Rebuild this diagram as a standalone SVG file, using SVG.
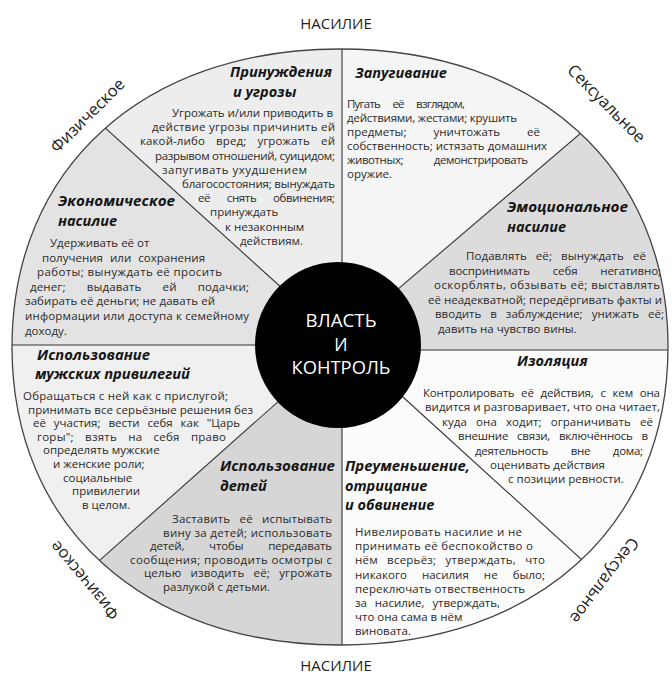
<svg xmlns="http://www.w3.org/2000/svg" width="672" height="679" viewBox="0 0 672 679">
<style>
.b{font-family:"Open Sans","Noto Sans",sans-serif;font-size:11.5px;fill:#2a2a2a}
.t{font-family:"Open Sans","Noto Sans",sans-serif;font-size:14.5px;font-weight:700;font-style:italic;fill:#151515}
.o{font-family:"Open Sans","Noto Sans",sans-serif;font-size:15px;fill:#222}
.c{font-family:"Open Sans","Noto Sans",sans-serif;font-size:17.5px;fill:#fff;text-anchor:middle}
.ln{stroke:#333;stroke-width:1.1;fill:none}
</style>
<defs>
<clipPath id="wheel"><path d="M340,49 C536.8,49 668,168.2 668,347 C668,525.8 536.8,645 340,645 C143.2,645 12,525.8 12,347 C12,168.2 143.2,49 340,49 Z"/></clipPath>
</defs>
<rect width="672" height="679" fill="#fff"/>
<g id="sectors" clip-path="url(#wheel)">
<polygon id="sec-intim" points="342,336.8 342,-300 1000,-300 1000,-224.5" fill="#f5f5f5"/>
<polygon id="sec-emo" points="326.5,350 1000,-224.5 1000,350" fill="#dcdcdc"/>
<polygon id="sec-iso" points="351.4,350 1000,350 1000,940.3" fill="#fbfbfb"/>
<polygon id="sec-min" points="342,341.5 1200,1122.3 342,1200" fill="#fbfbfb"/>
<polygon id="sec-kids" points="342,344.9 342,1200 -300,1200 -300,915.6" fill="#d6d6d6"/>
<polygon id="sec-male" points="341.8,345 -300,915.6 -300,345" fill="#f0f0f0"/>
<polygon id="sec-econ" points="344.9,345 -300,345 -300,-239.2" fill="#e3e3e3"/>
<polygon id="sec-coer" points="342,342.4 -300,-239.2 -300,-300 342,-300" fill="#ededed"/>
</g>
<g id="connectors" clip-path="url(#wheel)">
<line class="ln" x1="342" y1="0" x2="342" y2="700"/>
<line class="ln" x1="344.9" y1="345" x2="-100" y2="-58"/>
<line class="ln" x1="0" y1="345" x2="345" y2="345"/>
<line class="ln" x1="342" y1="344.9" x2="-100" y2="737.8"/>
<line class="ln" x1="342" y1="341.5" x2="800" y2="758.3"/>
<line class="ln" x1="326" y1="350" x2="700" y2="350"/>
<line class="ln" x1="342" y1="336.8" x2="800" y2="-53.9"/>
</g>
<path id="outline" d="M340,49 C536.8,49 668,168.2 668,347 C668,525.8 536.8,645 340,645 C143.2,645 12,525.8 12,347 C12,168.2 143.2,49 340,49 Z" fill="none" stroke="#444" stroke-width="1.3"/>

<g id="center">
<circle cx="338" cy="345" r="83" fill="#000"/>
<text class="c" x="341" y="327" textLength="71" lengthAdjust="spacingAndGlyphs">ВЛАСТЬ</text>
<text class="c" x="341" y="350.5">И</text>
<text class="c" x="341" y="374" textLength="99" lengthAdjust="spacingAndGlyphs">КОНТРОЛЬ</text>
</g>

<g id="outer-labels">
<text class="o" x="336" y="29" text-anchor="middle">НАСИЛИЕ</text>
<text class="o" x="336" y="671" text-anchor="middle">НАСИЛИЕ</text>
<text class="o" style="font-size:16.5px" text-anchor="middle" transform="translate(88,116) rotate(-45)" y="5">Физическое</text>
<text class="o" style="font-size:16.5px" text-anchor="middle" transform="translate(606,104) rotate(45)" y="5">Сексуальное</text>
<text class="o" style="font-size:16.5px" text-anchor="middle" transform="translate(85,580) rotate(-130)" y="5">Физическое</text>
<text class="o" style="font-size:16.5px" text-anchor="middle" transform="translate(604,580) rotate(127)" y="5">Сексуальное</text>
</g>

<g id="node-coercion">
<text class="t" x="332" y="77" text-anchor="end" textLength="102" lengthAdjust="spacingAndGlyphs">Принуждения</text>
<text class="t" x="233" y="96.5">и угрозы</text>
<text class="b" x="172" y="117" textLength="161" lengthAdjust="spacing">Угрожать и/или приводить в</text>
<text class="b" x="152" y="131.2" textLength="183" lengthAdjust="spacing">действие угрозы причинить ей</text>
<text class="b" x="140" y="145.4" textLength="195" lengthAdjust="spacing" style="word-spacing:8px">какой-либо вред; угрожать ей</text>
<text class="b" x="155" y="159.6" textLength="180" lengthAdjust="spacing">разрывом отношений, суицидом;</text>
<text class="b" x="162" y="173.8" textLength="145" lengthAdjust="spacing">запугивать ухудшением</text>
<text class="b" x="182" y="188" textLength="153" lengthAdjust="spacing">благосостояния; вынуждать</text>
<text class="b" x="198" y="202.2" textLength="137" lengthAdjust="spacing" style="word-spacing:14px">её снять обвинения;</text>
<text class="b" x="210" y="216.4">принуждать</text>
<text class="b" x="225" y="230.6">к незаконным</text>
<text class="b" x="240" y="244.8">действиям.</text>
</g>

<g id="node-intimidation">
<text class="t" x="355" y="78">Запугивание</text>
<text class="b" x="347" y="108" textLength="118" lengthAdjust="spacing" style="word-spacing:10px">Пугать её взглядом,</text>
<text class="b" x="347" y="122" textLength="170" lengthAdjust="spacing">действиями, жестами; крушить</text>
<text class="b" x="347" y="136" textLength="193" lengthAdjust="spacing" style="word-spacing:24px">предметы; уничтожать её</text>
<text class="b" x="347" y="150" textLength="200" lengthAdjust="spacing">собственность; истязать домашних</text>
<text class="b" x="347" y="164" textLength="181" lengthAdjust="spacing" style="word-spacing:28px">животных; демонстрировать</text>
<text class="b" x="347" y="178">оружие.</text>
</g>

<g id="node-economic">
<text class="t" x="58" y="206" textLength="117" lengthAdjust="spacingAndGlyphs">Экономическое</text>
<text class="t" x="58" y="225.5">насилие</text>
<text class="b" x="50" y="247">Удерживать её от</text>
<text class="b" x="42" y="261.6" textLength="163" lengthAdjust="spacing" style="word-spacing:4px">получения или сохранения</text>
<text class="b" x="37" y="276.2" textLength="185" lengthAdjust="spacing">работы; вынуждать её просить</text>
<text class="b" x="30" y="290.8" textLength="219" lengthAdjust="spacing" style="word-spacing:18px">денег; выдавать ей подачки;</text>
<text class="b" x="25" y="305.4" textLength="190" lengthAdjust="spacing">забирать её деньги; не давать ей</text>
<text class="b" x="25" y="320" textLength="224" lengthAdjust="spacing">информации или доступа к семейному</text>
<text class="b" x="25" y="334.6">доходу.</text>
</g>

<g id="node-male">
<text class="t" x="37" y="359.5" textLength="113" lengthAdjust="spacingAndGlyphs">Использование</text>
<text class="t" x="35" y="379" textLength="155" lengthAdjust="spacingAndGlyphs">мужских привилегий</text>
<text class="b" x="23" y="400" textLength="205" lengthAdjust="spacing">Обращаться с ней как с прислугой;</text>
<text class="b" x="28" y="413.6" textLength="225" lengthAdjust="spacing">принимать все серьёзные решения без</text>
<text class="b" x="33" y="427.2" textLength="207" lengthAdjust="spacing" style="word-spacing:5px">её участия; вести себя как "Царь</text>
<text class="b" x="37" y="440.8" textLength="189" lengthAdjust="spacing" style="word-spacing:8px">горы"; взять на себя право</text>
<text class="b" x="43" y="454.4">определять мужские</text>
<text class="b" x="53" y="468">и женские роли;</text>
<text class="b" x="63" y="481.6">социальные</text>
<text class="b" x="72" y="495.2">привилегии</text>
<text class="b" x="82" y="508.8">в целом.</text>
</g>

<g id="node-children">
<text class="t" x="220" y="471" textLength="115" lengthAdjust="spacingAndGlyphs">Использование</text>
<text class="t" x="220" y="490.5">детей</text>
<text class="b" x="172" y="523" textLength="160" lengthAdjust="spacing" style="word-spacing:6px">Заставить её испытывать</text>
<text class="b" x="163" y="536.6" textLength="169" lengthAdjust="spacing">вину за детей; использовать</text>
<text class="b" x="150" y="550.2" textLength="182" lengthAdjust="spacing" style="word-spacing:22px">детей, чтобы передавать</text>
<text class="b" x="130" y="563.8" textLength="202" lengthAdjust="spacing">сообщения; проводить осмотры с</text>
<text class="b" x="144" y="577.4" textLength="188" lengthAdjust="spacing" style="word-spacing:6px">целью изводить её; угрожать</text>
<text class="b" x="163" y="591">разлукой с детьми.</text>
</g>

<g id="node-emotional">
<text class="t" x="507" y="212" textLength="121" lengthAdjust="spacingAndGlyphs">Эмоциональное</text>
<text class="t" x="507" y="231.5">насилие</text>
<text class="b" x="466" y="260" textLength="180" lengthAdjust="spacing" style="word-spacing:6px">Подавлять её; вынуждать её</text>
<text class="b" x="449" y="274.5" textLength="212" lengthAdjust="spacing" style="word-spacing:20px">воспринимать себя негативно;</text>
<text class="b" x="434" y="289" textLength="226" lengthAdjust="spacing">оскорблять, обзывать её; выставлять</text>
<text class="b" x="428" y="303.5" textLength="234" lengthAdjust="spacing">её неадекватной; передёргивать факты и</text>
<text class="b" x="435" y="318" textLength="229" lengthAdjust="spacing" style="word-spacing:6px">вводить в заблуждение; унижать её;</text>
<text class="b" x="438" y="332.5">давить на чувство вины.</text>
</g>

<g id="node-isolation">
<text class="t" x="517" y="366">Изоляция</text>
<text class="b" x="423" y="397" textLength="237" lengthAdjust="spacing" style="word-spacing:4px">Контролировать её действия, с кем она</text>
<text class="b" x="425" y="411.4" textLength="235" lengthAdjust="spacing">видится и разговаривает, что она читает,</text>
<text class="b" x="442" y="425.8" textLength="211" lengthAdjust="spacing" style="word-spacing:6px">куда она ходит; ограничивать её</text>
<text class="b" x="458" y="440.2" textLength="190" lengthAdjust="spacing" style="word-spacing:6px">внешние связи, включённось в</text>
<text class="b" x="475" y="454.6" textLength="168" lengthAdjust="spacing" style="word-spacing:20px">деятельность вне дома;</text>
<text class="b" x="490" y="469">оценивать действия</text>
<text class="b" x="508" y="483.4">с позиции ревности.</text>
</g>

<g id="node-minimizing">
<text class="t" x="345" y="471" textLength="125" lengthAdjust="spacingAndGlyphs">Преуменьшение,</text>
<text class="t" x="345" y="490.5">отрицание</text>
<text class="t" x="345" y="510">и обвинение</text>
<text class="b" x="355" y="536" textLength="167" lengthAdjust="spacing">Нивелировать насилие и не</text>
<text class="b" x="355" y="550.2" textLength="178" lengthAdjust="spacing">принимать её беспокойство о</text>
<text class="b" x="355" y="564.4" textLength="190" lengthAdjust="spacing" style="word-spacing:6px">нём всерьёз; утверждать, что</text>
<text class="b" x="355" y="578.6" textLength="190" lengthAdjust="spacing" style="word-spacing:12px">никакого насилия не было;</text>
<text class="b" x="355" y="592.8" textLength="170" lengthAdjust="spacing">переключать отвественность</text>
<text class="b" x="355" y="607" textLength="145" lengthAdjust="spacing" style="word-spacing:5px">за насилие, утверждать,</text>
<text class="b" x="355" y="621.2">что она сама в нём</text>
<text class="b" x="355" y="635.4">виновата.</text>
</g>
</svg>
